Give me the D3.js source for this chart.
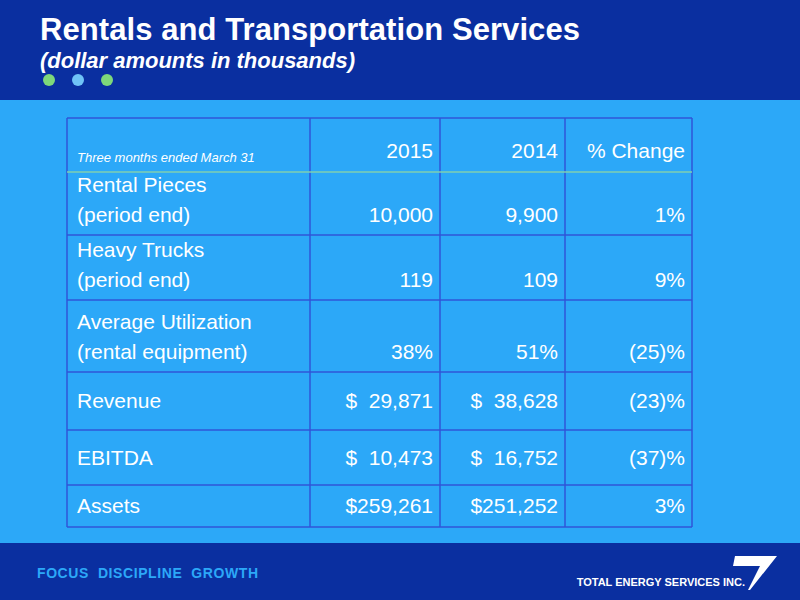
<!DOCTYPE html>
<html><head><meta charset="utf-8">
<script src="https://cdn.jsdelivr.net/npm/d3@7"></script>
<style>body{margin:0}svg{display:block;font-family:"Liberation Sans",Arial,sans-serif}</style>
</head><body><div id="chart"></div>
<script>
const headers = ['2015', '2014', '% Change']
const rowLabels = [['Rental Pieces', '(period end)'], ['Heavy Trucks', '(period end)'], ['Average Utilization', '(rental equipment)'], ['Revenue'], ['EBITDA'], ['Assets']]
const values2015 = ['10,000', '119', '38%', '$  29,871', '$  10,473', '$259,261']
const values2014 = ['9,900', '109', '51%', '$  38,628', '$  16,752', '$251,252']
const changes = ['1%', '9%', '(25)%', '(23)%', '(37)%', '3%']
const dots = ['#7ed87a', '#6fc3f7', '#7ed87a']

const width = 800, height = 600
const svg = d3.select('#chart').append('svg').attr('width', width).attr('height', height)
svg.append('rect').attr('width', width).attr('height', height).attr('fill', '#2ca8f8')
svg.append('rect').attr('width', width).attr('height', 100).attr('fill', '#0a2fa0')
svg.append('rect').attr('y', 543).attr('width', width).attr('height', 57).attr('fill', '#0a2fa0')

svg.append('text').attr('x', 40).attr('y', 40).attr('fill', '#fff').attr('font-size', 31).attr('font-weight', 'bold').attr('textLength', 540).text('Rentals and Transportation Services')
svg.append('text').attr('x', 40).attr('y', 68).attr('fill', '#fff').attr('font-size', 22).attr('font-weight', 'bold').attr('font-style', 'italic').attr('textLength', 315).text('(dollar amounts in thousands)')
svg.selectAll('.dot').data(dots).enter().append('circle')
    .attr('cx', (d, i) => 49 + i * 29).attr('cy', 80).attr('r', 6).attr('fill', d => d)

// table
const colEdges = [67, 310, 440, 565, 692]
const rowEdges = [118, 172, 235, 300, 372, 430, 485, 527]
const g = svg.append('g')
const line = '#2f56d8'
colEdges.forEach(x => g.append('line').attr('x1', x).attr('x2', x).attr('y1', rowEdges[0]).attr('y2', rowEdges[rowEdges.length - 1]).attr('stroke', line).attr('stroke-width', 1.5))
rowEdges.forEach((y, i) => g.append('line').attr('x1', colEdges[0]).attr('x2', colEdges[4]).attr('y1', y).attr('y2', y)
    .attr('stroke', i === 1 ? '#7fcfb0' : line).attr('stroke-width', 1.5))

const txt = (x, y, s, anchor, size, italic) => g.append('text').attr('x', x).attr('y', y).attr('fill', '#fff')
    .attr('font-size', size || 21).attr('text-anchor', anchor).attr('font-style', italic ? 'italic' : null)
    .attr('xml:space', 'preserve').style('white-space', 'pre').text(s)

txt(77, 162, 'Three months ended March 31', 'start', 13, true)
headers.forEach((h, i) => txt(colEdges[i + 2] - 7, 158, h, 'end'))

rowLabels.forEach((lab, r) => {
    const bottom = rowEdges[r + 2] - 13
    const mid = (rowEdges[r + 1] + rowEdges[r + 2]) / 2 + 7
    if (lab.length === 2) {
        txt(77, bottom - 30, lab[0], 'start')
        txt(77, bottom, lab[1], 'start')
    } else txt(77, mid, lab[0], 'start')
    const y = lab.length === 2 ? bottom : mid
    const vals = [values2015[r], values2014[r], changes[r]]
    vals.forEach((v, i) => txt(colEdges[i + 2] - 7, y, v, 'end'))
})

svg.append('text').attr('x', 37).attr('y', 578).attr('fill', '#2ca8f8').attr('font-size', 14).attr('font-weight', 'bold')
    .attr('textLength', 221).attr('xml:space', 'preserve').style('white-space', 'pre').text('FOCUS  DISCIPLINE  GROWTH')
svg.append('text').attr('x', 745).attr('y', 586).attr('fill', '#fff').attr('font-size', 11).attr('font-weight', 'bold').attr('text-anchor', 'end').text('TOTAL ENERGY SERVICES INC.')
svg.append('path').attr('d', 'M735,556 L777,556 L750,590 L748,590 L760,566 L733,566 Z').attr('fill', '#fff')
</script></body></html>
